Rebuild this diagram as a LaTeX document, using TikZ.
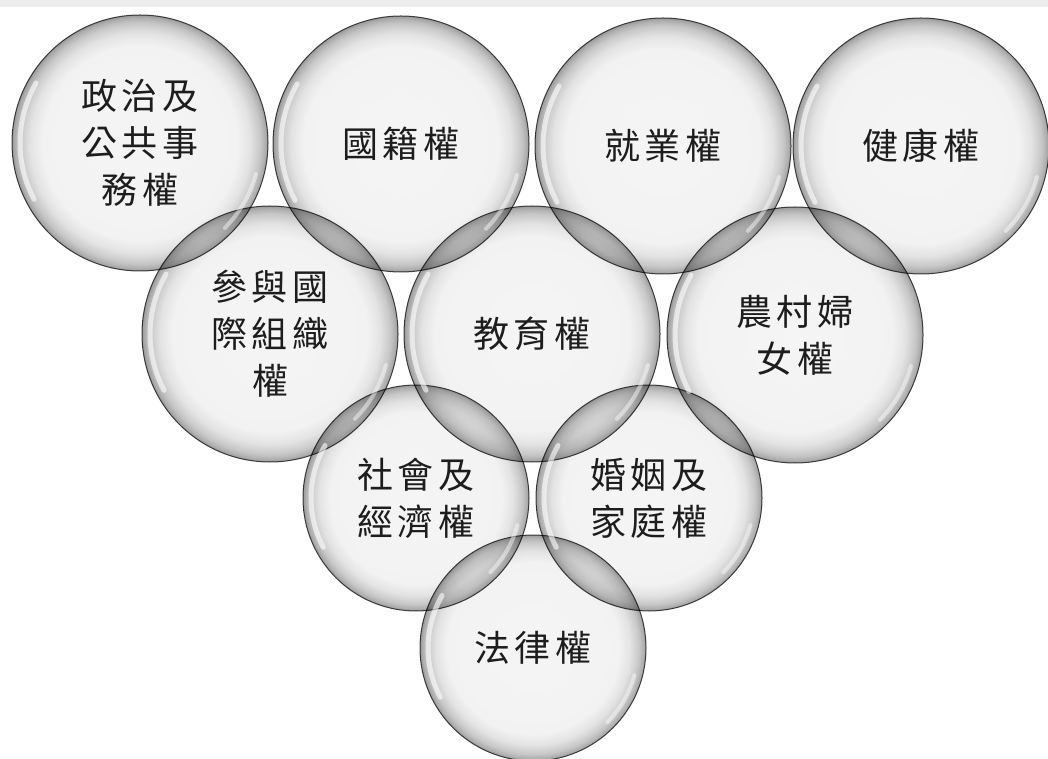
\documentclass[tikz,border=0pt]{standalone}
\usepackage{fontspec}
\newfontfamily\cjk[LetterSpace=12]{Noto Sans CJK TC}
\pgfdeclareradialshading{bubble}{\pgfpoint{0bp}{0bp}}{color(0bp)=(black!4); color(19bp)=(black!5); color(21.5bp)=(black!11); color(23.5bp)=(black!22); color(24.5bp)=(black!32); color(25bp)=(black!40); color(50bp)=(black!40)}
\tikzset{
  bub/.style={circle, inner sep=0pt, draw=black!70, line width=1pt, shade, shading=bubble, blend mode=multiply, text=black!88, align=center, font=\cjk\fontsize{36}{47}\selectfont},
  big/.style={bub, minimum size=256pt},
  small/.style={bub, minimum size=226pt},
  hl/.style={white, line width=5pt, line cap=round, opacity=0.6},
  hlb/.style={white, line width=4pt, line cap=round, opacity=0.45}
}
\begin{document}
\begin{tikzpicture}[x=1pt,y=1pt]
\useasboundingbox (0,0) rectangle (1048,758);
\fill[white] (0,0) rectangle (1048,758);
\fill[black!7] (0,751) rectangle (1048,758);
% row 1
\node[big] (a) at (140,615) {政治及\\公共事\\務權};
\node[big] (b) at (401,614) {國籍權};
\node[big] (c) at (663,612) {就業權};
\node[big] (d) at (921,612) {健康權};
% row 2
\node[big] (e) at (270,424) {參與國\\際組織\\權};
\node[big] (f) at (532,424) {教育權};
\node[big] (g) at (795,423) {農村婦\\女權};
% row 3
\node[small] (h) at (416,260) {社會及\\經濟權};
\node[small] (i) at (649,260) {婚姻及\\家庭權};
% row 4
\node[small] (j) at (533,110) {法律權};
% highlights
\foreach \n/\r in {a/120,b/120,c/120,d/120,e/120,f/120,g/120,h/105,i/105,j/105}{
  \draw[hl] (\n.center) ++(150:\r) arc[start angle=150, end angle=208, radius=\r];
  \draw[hlb] (\n.center) ++(-45:\r) arc[start angle=-45, end angle=-15, radius=\r];
}
\end{tikzpicture}
\end{document}
